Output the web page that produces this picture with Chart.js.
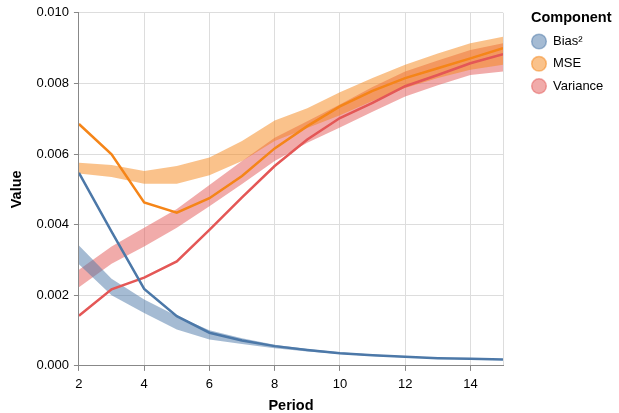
<!DOCTYPE html>
<html>
<head>
<meta charset="utf-8">
<script src="https://cdn.jsdelivr.net/npm/chart.js@4"></script>
<style>
  body { margin: 0; background: #fff; }
  #wrap { width: 619px; height: 413px; position: relative; }
</style>
</head>
<body>
<div id="wrap"><canvas id="myChart"></canvas></div>
<script>
// data (values in units of 0.001)
var periods = [2, 3, 4, 5, 6, 7, 8, 9, 10, 11, 12, 13, 14, 15];
var components = ['Bias²', 'MSE', 'Variance'];

var biasLine  = [5.47, 3.80, 2.18, 1.41, 0.94, 0.72, 0.56, 0.45, 0.36, 0.30, 0.26, 0.22, 0.20, 0.18];
var biasUpper = [3.41, 2.47, 1.88, 1.41, 1.01, 0.78, 0.60, 0.48, 0.39, 0.32, 0.27, 0.23, 0.21, 0.19];
var biasLower = [2.88, 2.00, 1.50, 1.03, 0.75, 0.62, 0.50, 0.41, 0.34, 0.28, 0.24, 0.21, 0.18, 0.17];

var mseLine  = [6.85, 5.99, 4.63, 4.34, 4.75, 5.38, 6.16, 6.79, 7.35, 7.79, 8.15, 8.43, 8.71, 9.00];
var mseUpper = [5.75, 5.69, 5.52, 5.66, 5.90, 6.37, 6.95, 7.30, 7.75, 8.15, 8.53, 8.85, 9.14, 9.32];
var mseLower = [5.45, 5.35, 5.16, 5.16, 5.40, 5.80, 6.37, 6.74, 7.10, 7.50, 7.87, 8.15, 8.39, 8.53];

var varLine  = [1.42, 2.17, 2.50, 2.96, 3.85, 4.77, 5.66, 6.41, 7.02, 7.45, 7.92, 8.24, 8.57, 8.83];
var varUpper = [2.72, 3.38, 3.91, 4.44, 5.12, 5.80, 6.46, 6.93, 7.40, 7.90, 8.34, 8.65, 8.95, 9.14];
var varLower = [2.23, 2.89, 3.38, 3.91, 4.52, 5.15, 5.80, 6.32, 6.75, 7.20, 7.63, 7.95, 8.24, 8.34];

var yTicks = [0, 0.002, 0.004, 0.006, 0.008, 0.010];

var colors = ['#4c78a8', '#f58518', '#e45756'];
var bandColors = ['rgba(76,120,168,0.5)', 'rgba(245,133,24,0.5)', 'rgba(228,87,86,0.5)'];

function pts(arr) {
  return periods.map(function (p, i) { return { x: p, y: arr[i] / 1000 }; });
}

var lines = [biasLine, mseLine, varLine];
var uppers = [biasUpper, mseUpper, varUpper];
var lowers = [biasLower, mseLower, varLower];

var datasets = [];
for (var i = 0; i < 3; i++) {
  datasets.push({
    label: components[i], data: pts(lines[i]), borderColor: colors[i],
    borderWidth: 2.5, pointRadius: 0, fill: false, order: 0, tension: 0
  });
}
for (var i = 0; i < 3; i++) {
  datasets.push({
    label: components[i] + ' hi', data: pts(uppers[i]), borderWidth: 0,
    borderColor: 'transparent', pointRadius: 0, fill: false, order: 1
  });
  datasets.push({
    label: components[i] + ' lo', data: pts(lowers[i]), borderWidth: 0,
    borderColor: 'transparent', pointRadius: 0, fill: '-1',
    backgroundColor: bandColors[i], order: 1
  });
}

var FONT = '"Liberation Sans", Arial, Helvetica, sans-serif';
Chart.defaults.font.family = FONT;
Chart.defaults.color = '#000';

// legend drawn at the right like the reference
var legendPlugin = {
  id: 'sideLegend',
  afterDraw: function (chart) {
    var c = chart.ctx;
    var x0 = chart.chartArea.right + 28;
    c.save();
    c.textBaseline = 'middle';
    c.textAlign = 'left';
    c.fillStyle = '#000';
    c.font = 'bold 14.5px ' + FONT;
    c.fillText('Component', x0, 18);
    c.font = '13px ' + FONT;
    components.forEach(function (name, i) {
      var y = 41.5 + i * 22.3;
      c.beginPath();
      c.arc(x0 + 8, y, 7.3, 0, Math.PI * 2);
      c.fillStyle = bandColors[i];
      c.fill();
      c.lineWidth = 1.5;
      c.strokeStyle = bandColors[i];
      c.stroke();
      c.fillStyle = '#000';
      c.fillText(name, x0 + 22, y);
    });
    c.restore();
  }
};

var ctx = document.getElementById('myChart').getContext('2d');
var myChart = new Chart(ctx, {
  type: 'line',
  data: { datasets: datasets },
  plugins: [legendPlugin],
  options: {
    responsive: true,
    maintainAspectRatio: false,
    animation: false,
    layout: { padding: { left: 8, right: 116, top: 3, bottom: 0 } },
    scales: {
      x: {
        type: 'linear', min: 2, max: 15,
        ticks: {
          stepSize: 2, font: { size: 13 }, padding: 6, maxRotation: 0,
          callback: function (v) { return v === 15 ? '' : v; }
        },
        grid: {
          color: '#ddd', tickLength: 5,
          tickColor: function (c) { return c.tick && c.tick.value === 15 ? 'rgba(0,0,0,0)' : '#888'; }
        },
        border: { color: '#888' },
        title: { display: true, text: 'Period', font: { size: 14.5, weight: 'bold', lineHeight: 1 }, padding: { top: 0, bottom: 0 } }
      },
      y: {
        min: 0, max: 0.01,
        afterBuildTicks: function (axis) { axis.ticks = yTicks.map(function (v) { return { value: v }; }); },
        ticks: {
          font: { size: 13 }, padding: 5,
          callback: function (v) { return v.toFixed(3); }
        },
        grid: { color: '#ddd', tickLength: 5, tickColor: '#888' },
        border: { color: '#888' },
        title: { display: true, text: 'Value', font: { size: 14.5, weight: 'bold' }, padding: { top: 0, bottom: 6 } }
      }
    },
    plugins: {
      tooltip: { enabled: false },
      legend: { display: false }
    }
  }
});
</script>
</body>
</html>
